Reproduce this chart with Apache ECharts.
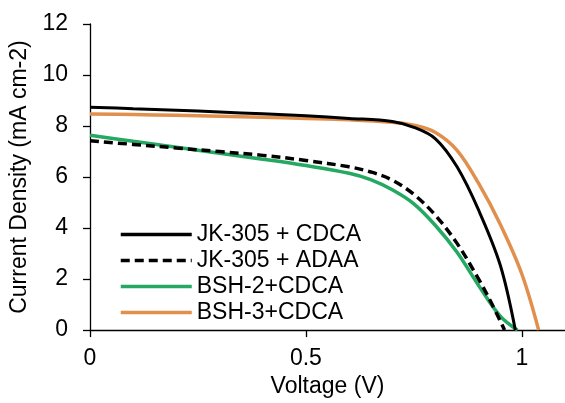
<!DOCTYPE html>
<html>
<head>
<meta charset="utf-8">
<script src="https://cdn.jsdelivr.net/npm/echarts@6/dist/echarts.min.js"></script>
<style>
  html, body { margin: 0; padding: 0; background: #fff; }
  #chart { width: 565px; height: 403px; }
</style>
</head>
<body>
<div id="chart"></div>
<script>
// 图例名称
const seriesNames = ['JK-305 + CDCA', 'JK-305 + ADAA', 'BSH-2+CDCA', 'BSH-3+CDCA']

// JK-305 + CDCA
const voltJk305Cdca = [0, 0.1, 0.2, 0.3, 0.4, 0.5, 0.6, 0.7, 0.75, 0.8, 0.85, 0.9, 0.95, 0.985]
const curJk305Cdca = [8.74, 8.68, 8.62, 8.55, 8.48, 8.4, 8.3, 8.18, 7.95, 7.5, 6.4, 4.7, 2.55, 0]

// JK-305 + ADAA
const voltJk305Adaa = [0, 0.1, 0.2, 0.3, 0.4, 0.5, 0.6, 0.65, 0.7, 0.75, 0.8, 0.85, 0.9, 0.93, 0.96]
const curJk305Adaa = [7.42, 7.28, 7.14, 7.0, 6.85, 6.65, 6.4, 6.2, 5.88, 5.32, 4.5, 3.4, 2.0, 1.05, 0]

// BSH-2+CDCA
const voltBsh2 = [0, 0.1, 0.2, 0.3, 0.4, 0.5, 0.6, 0.65, 0.7, 0.75, 0.8, 0.85, 0.9, 0.95, 0.99]
const curBsh2 = [7.64, 7.4, 7.17, 6.93, 6.7, 6.45, 6.15, 5.9, 5.5, 4.95, 4.1, 3.05, 1.75, 0.55, 0]

// BSH-3+CDCA
const voltBsh3 = [0, 0.1, 0.2, 0.3, 0.4, 0.5, 0.6, 0.7, 0.75, 0.8, 0.85, 0.9, 0.95, 1.0, 1.039]
const curBsh3 = [8.47, 8.45, 8.42, 8.38, 8.34, 8.3, 8.25, 8.15, 8.03, 7.75, 7.05, 5.75, 4.15, 2.2, 0]

// 坐标轴刻度
const xTickLabels = ['0', '0.5', '1']
const yTickLabels = ['0', '2', '4', '6', '8', '10', '12']

const pairs = (xs, ys) => xs.map((x, i) => [x, ys[i]])

const chart = echarts.init(document.getElementById('chart'))

const fontFamily = 'Liberation Sans, Arial, sans-serif'

const option = {
  animation: false,
  textStyle: { fontFamily: fontFamily },
  grid: {
    left: 90,
    top: 24,
    width: 476,
    height: 311
  },
  legend: {
    orient: 'vertical',
    left: 114,
    top: 218,
    itemWidth: 71,
    itemHeight: 14,
    itemGap: 3,
    data: seriesNames,
    // 隐藏图例中的圆点
    itemStyle: { opacity: 0 },
    lineStyle: { width: 3.5 },
    textStyle: { fontSize: 23, color: '#000', fontFamily: fontFamily, lineHeight: 23 }
  },
  xAxis: {
    type: 'value',
    min: 0,
    max: 1.1,
    interval: 0.5,
    name: 'Voltage (V)',
    nameLocation: 'middle',
    nameGap: 44,
    nameTextStyle: { fontSize: 23, color: '#000' },
    axisLine: { lineStyle: { color: '#000', width: 1.3 } },
    axisTick: { show: true, length: 7, lineStyle: { color: '#000', width: 1.3 } },
    axisLabel: {
      fontSize: 23,
      color: '#000',
      margin: 17,
      showMaxLabel: false,
      formatter: v => {
        const s = String(Math.round(v * 10) / 10)
        return xTickLabels.includes(s) ? s : ''
      }
    },
    splitLine: { show: false }
  },
  yAxis: {
    type: 'value',
    min: 0,
    max: 12,
    interval: 2,
    name: 'Current Density (mA cm-2)',
    nameLocation: 'middle',
    nameGap: 54,
    nameTextStyle: { fontSize: 23, color: '#000' },
    axisLine: { show: true, lineStyle: { color: '#000', width: 1.3 } },
    axisTick: { show: true, length: 7, lineStyle: { color: '#000', width: 1.3 } },
    axisLabel: {
      fontSize: 23,
      color: '#000',
      margin: 22,
      formatter: v => (yTickLabels.includes(String(v)) ? String(v) : '')
    },
    splitLine: { show: false }
  },
  series: [
    {
      name: seriesNames[0],
      type: 'line',
      data: pairs(voltJk305Cdca, curJk305Cdca),
      smooth: 0.35,
      showSymbol: false,
      symbol: 'none',
      color: '#000000',
      lineStyle: { color: '#000000', width: 3 },
      z: 4
    },
    {
      name: seriesNames[1],
      type: 'line',
      data: pairs(voltJk305Adaa, curJk305Adaa),
      smooth: 0.35,
      showSymbol: false,
      symbol: 'none',
      color: '#000000',
      lineStyle: { color: '#000000', width: 3.5, type: [9, 5] },
      z: 3
    },
    {
      name: seriesNames[2],
      type: 'line',
      data: pairs(voltBsh2, curBsh2),
      smooth: 0.35,
      showSymbol: false,
      symbol: 'none',
      color: '#25a862',
      lineStyle: { color: '#25a862', width: 3.5 },
      z: 2
    },
    {
      name: seriesNames[3],
      type: 'line',
      data: pairs(voltBsh3, curBsh3),
      smooth: 0.35,
      showSymbol: false,
      symbol: 'none',
      color: '#e08f4d',
      lineStyle: { color: '#e08f4d', width: 3.5 },
      z: 1
    }
  ]
}

chart.setOption(option)
</script>
</body>
</html>
